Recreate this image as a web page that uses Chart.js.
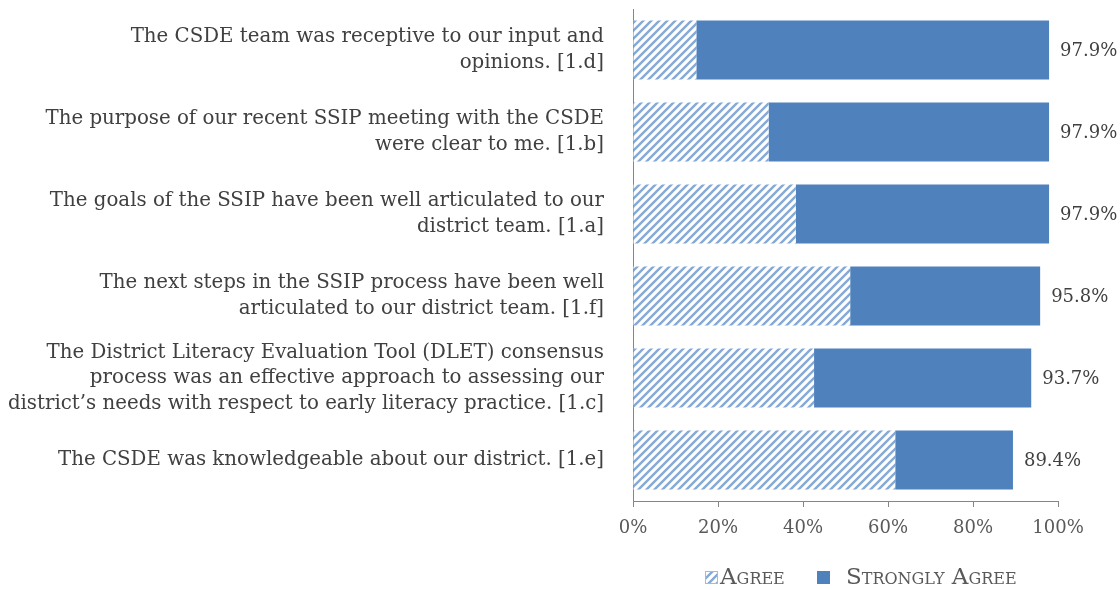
<!DOCTYPE html>
<html>
<head>
<meta charset="utf-8">
<script src="https://cdn.jsdelivr.net/npm/chart.js@4/dist/chart.umd.min.js"></script>
<style>
  html, body { margin: 0; padding: 0; background: #fff; }
  #wrap { position: relative; width: 1120px; height: 590px; }
  #c { position: absolute; left: 0; top: 0; }
  #legend { position: absolute; left: 0; top: 563px; width: 1120px; height: 27px;
    font-family: "DejaVu Serif", serif; font-variant: small-caps; color: #595959; font-size: 23px; }
  .item { position: absolute; top: 0; line-height: 27px; white-space: nowrap; }
  .sw { position: absolute; width: 13px; height: 13px; top: 8px; }
</style>
</head>
<body>
<div id="wrap">
  <canvas id="c" width="1120" height="590"></canvas>
  <div id="legend">
    <div class="sw" id="swA" style="left:705px;"></div>
    <div class="item" style="left:720px;">Agree</div>
    <div class="sw" style="left:817px; background:#4F81BD;"></div>
    <div class="item" style="left:846px;">Strongly Agree</div>
  </div>
</div>
<script>
const categories = [
  ["The CSDE team was receptive to our input and", "opinions. [1.d]"],
  ["The purpose of our recent SSIP meeting with the CSDE", "were clear to me. [1.b]"],
  ["The goals of the SSIP have been well articulated to our", "district team. [1.a]"],
  ["The next steps in the SSIP process have been well", "articulated to our district team. [1.f]"],
  ["The District Literacy Evaluation Tool (DLET) consensus", "process was an effective approach to assessing our", "district\u2019s needs with respect to early literacy practice. [1.c]"],
  ["The CSDE was knowledgeable about our district. [1.e]"]
];
const agree = [14.9, 31.9, 38.3, 51.1, 42.6, 61.7];
const stronglyAgree = [83.0, 66.0, 59.6, 44.7, 51.1, 27.7];
const seriesNames = ["Agree", "Strongly Agree"];
const xTicks = [0, 20, 40, 60, 80, 100];

const BLUE = '#4F81BD';
const FONT = '"DejaVu Serif", serif';

function makeHatch() {
  const s = 8;
  const c = document.createElement('canvas');
  c.width = s; c.height = s;
  const g = c.getContext('2d');
  g.fillStyle = '#ffffff';
  g.fillRect(0, 0, s, s);
  g.strokeStyle = '#86a9d7';
  g.lineWidth = 2.4;
  g.beginPath();
  g.moveTo(-2, s + 2); g.lineTo(s + 2, -2);
  g.moveTo(-2, 2); g.lineTo(2, -2);
  g.moveTo(s - 2, s + 2); g.lineTo(s + 2, s - 2);
  g.stroke();
  return c;
}
const hatchCanvas = makeHatch();
const swA = document.getElementById('swA');
swA.style.background = 'url(' + hatchCanvas.toDataURL() + ')';
swA.style.outline = '1px solid #9fbbe0';
swA.style.outlineOffset = '-1px';

const ctx = document.getElementById('c').getContext('2d');
const hatch = ctx.createPattern(hatchCanvas, 'repeat');

const totalLabels = {
  id: 'totalLabels',
  afterDatasetsDraw(chart) {
    const g = chart.ctx;
    const meta = chart.getDatasetMeta(1);
    g.save();
    g.font = '18px ' + FONT;
    g.fillStyle = '#404040';
    g.textBaseline = 'middle';
    g.textAlign = 'left';
    meta.data.forEach((bar, i) => {
      const total = agree[i] + stronglyAgree[i];
      g.fillText(total.toFixed(1) + '%', bar.x + 11, bar.y + 1);
    });
    g.restore();
  }
};

new Chart(ctx, {
  type: 'bar',
  data: {
    labels: categories,
    datasets: [
      { label: seriesNames[0], data: agree, backgroundColor: hatch, borderWidth: 0 },
      { label: seriesNames[1], data: stronglyAgree, backgroundColor: BLUE, borderWidth: 0 }
    ]
  },
  options: {
    indexAxis: 'y',
    responsive: false,
    animation: false,
    events: [],
    layout: { padding: { top: 9, right: 62, bottom: 49, left: 0 } },
    plugins: { legend: { display: false }, tooltip: { enabled: false } },
    datasets: { bar: { categoryPercentage: 1, barPercentage: 0.72 } },
    scales: {
      x: {
        stacked: true,
        min: 0, max: 100,
        afterBuildTicks(scale) { scale.ticks = xTicks.map(v => ({ value: v })); },
        afterFit(scale) { scale.height = 40; scale.paddingLeft = 0; scale.paddingRight = 0; },
        grid: { drawOnChartArea: false, drawTicks: true, tickLength: 6, color: '#868686', lineWidth: 1 },
        border: { display: true, color: '#868686', width: 1 },
        ticks: { color: '#595959', font: { family: FONT, size: 18 }, padding: 11, autoSkip: false, maxRotation: 0, callback: v => v + '%' }
      },
      y: {
        stacked: true,
        afterFit(scale) { scale.width = 633; scale.paddingTop = 0; scale.paddingBottom = 0; },
        grid: { drawOnChartArea: false, drawTicks: false },
        border: { display: true, color: '#868686', width: 1 },
        ticks: { color: '#404040', font: { family: FONT, size: 19.8, lineHeight: 1.29 }, padding: 29, crossAlign: 'near', autoSkip: false }
      }
    }
  },
  plugins: [totalLabels]
});
</script>
</body>
</html>
